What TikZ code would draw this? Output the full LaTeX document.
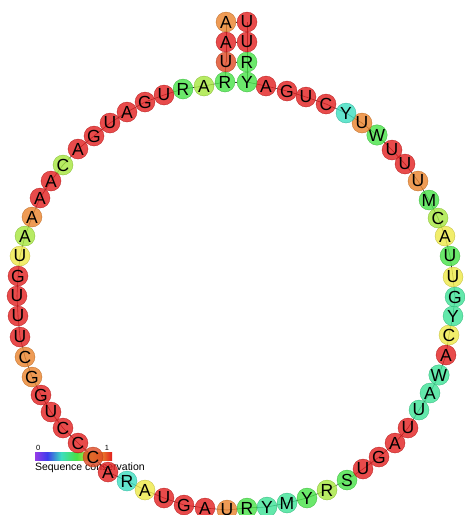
\documentclass[tikz,border=0pt]{standalone}
\usepackage{fontspec}
\setmainfont{Liberation Sans}
\usepackage{tikz}
\usetikzlibrary{positioning, backgrounds}

\definecolor{cRed}{RGB}{226,30,30}
\definecolor{cOrRed}{RGB}{222,72,35}
\definecolor{cOrange}{RGB}{234,130,42}
\definecolor{cYellow}{RGB}{238,232,70}
\definecolor{cYelGreen}{RGB}{165,230,60}
\definecolor{cGreen}{RGB}{70,226,70}
\definecolor{cTeal}{RGB}{60,226,150}
\definecolor{cCyan}{RGB}{60,222,192}
\definecolor{cViolet}{RGB}{150,60,232}
\definecolor{cBlue}{RGB}{60,60,236}

\pgfdeclarehorizontalshading{conservbar}{100bp}{color(0bp)=(cViolet); color(25bp)=(cViolet); color(33bp)=(cBlue); color(42bp)=(cCyan); color(52bp)=(cGreen); color(62bp)=(cYellow); color(68bp)=(cOrange); color(75bp)=(cRed); color(100bp)=(cRed)}

\begin{document}
\begin{tikzpicture}[
    x=1pt, y=-1pt,
    nt/.style={circle, inner sep=0pt, minimum size=20pt, fill=#1, draw=#1!80!black, line width=0.3pt, fill opacity=0.8, text opacity=1, font=\fontsize{17.5}{17.5}\selectfont},
    backbone/.style={draw=black!80, line width=0.6pt},
    pairline/.style={draw=black!80, line width=0.6pt},
    legbar/.style={rectangle, inner sep=0pt, minimum width=77pt, minimum height=8pt, shading=conservbar},
    legtxt/.style={inner sep=0pt, font=\fontsize{10.5}{11}\selectfont}
]
\useasboundingbox (0,0) rectangle (465,515);

% legend
\node[legbar] (bar) at (73.5,456) {};
\node[legtxt, font=\fontsize{7.5}{7.5}\selectfont, anchor=south west] (lzero) at ([xshift=1pt, yshift=1.5pt]bar.north west) {0};
\node[legtxt, font=\fontsize{7.5}{7.5}\selectfont, anchor=south east] (lone) at ([xshift=-3pt, yshift=1.5pt]bar.north east) {1};
\node[legtxt, anchor=north west] (ltitle) at ([yshift=-2pt]bar.south west) {Sequence conservation};

% bases, 5' end at top of left strand
\foreach \i/\px/\py/\nt/\col in {
  1/226/22/A/cOrange, 2/226/42/A/cRed, 3/226/62/U/cOrRed, 4/225/82/R/cGreen,
  5/204/86/A/cYelGreen, 6/183/89/R/cGreen, 7/164/95/U/cRed, 8/145/102/G/cRed,
  9/127/112/A/cRed, 10/110/123/U/cRed, 11/94/136/G/cRed, 12/78/149/A/cRed,
  13/63/165/C/cYelGreen, 14/51/181/A/cRed, 15/40/198/A/cRed, 16/32/217/A/cOrange,
  17/25/236/A/cYelGreen, 18/20/256/U/cYellow, 19/18/276/G/cRed, 20/17/296/U/cRed,
  21/18/316/U/cRed, 22/20/337/U/cRed, 23/25/357/C/cOrange, 24/32/377/G/cOrange,
  25/41/395/G/cRed, 26/51/412/U/cRed, 27/63/428/C/cRed, 28/78/443/C/cRed,
  29/93/457/C/cOrRed, 30/108/472/A/cRed, 31/127/481/R/cCyan, 32/145/490/A/cYellow,
  33/164/498/U/cRed, 34/184/505/G/cRed, 35/205/508/A/cRed, 36/227/510/U/cOrange,
  37/247/508/R/cGreen, 38/267/507/Y/cTeal, 39/287/503/M/cTeal, 40/307/498/Y/cGreen,
  41/327/490/R/cYelGreen, 42/347/480/S/cGreen, 43/363/469/U/cRed, 44/379/457/G/cRed,
  45/395/443/A/cRed, 46/408/428/U/cRed, 47/419/410/U/cTeal, 48/430/393/A/cTeal,
  49/439/375/W/cTeal, 50/446/355/A/cRed, 51/449/335/C/cYellow, 52/453/316/Y/cTeal,
  53/455/297/G/cTeal, 54/453/277/U/cYellow, 55/450/256/U/cGreen, 56/445/236/A/cYellow,
  57/438/218/C/cYelGreen, 58/429/200/M/cGreen, 59/418/181/U/cOrange, 60/405/164/U/cRed,
  61/392/150/U/cRed, 62/377/135/W/cGreen, 63/362/123/U/cOrange, 64/346/113/Y/cCyan,
  65/326/104/C/cRed, 66/306/97/U/cRed, 67/287/91/G/cRed, 68/266/86/A/cRed,
  69/247/82/Y/cGreen, 70/247/62/R/cGreen, 71/247/42/U/cRed, 72/247/22/U/cRed}
  \node[nt=\col] (b\i) at (\px,\py) {\nt};

\begin{scope}[on background layer]
% backbone
\foreach \i [evaluate=\i as \j using int(\i+1)] in {1,...,71}
  \draw[backbone] (b\i.center) -- (b\j.center);
% stem pairs
\draw[pairline] (b1) -- (b72);
\draw[pairline] (b2) -- (b71);
\draw[pairline] (b3) -- (b70);
\draw[pairline] (b4) -- (b69);
\end{scope}
\end{tikzpicture}
\end{document}
